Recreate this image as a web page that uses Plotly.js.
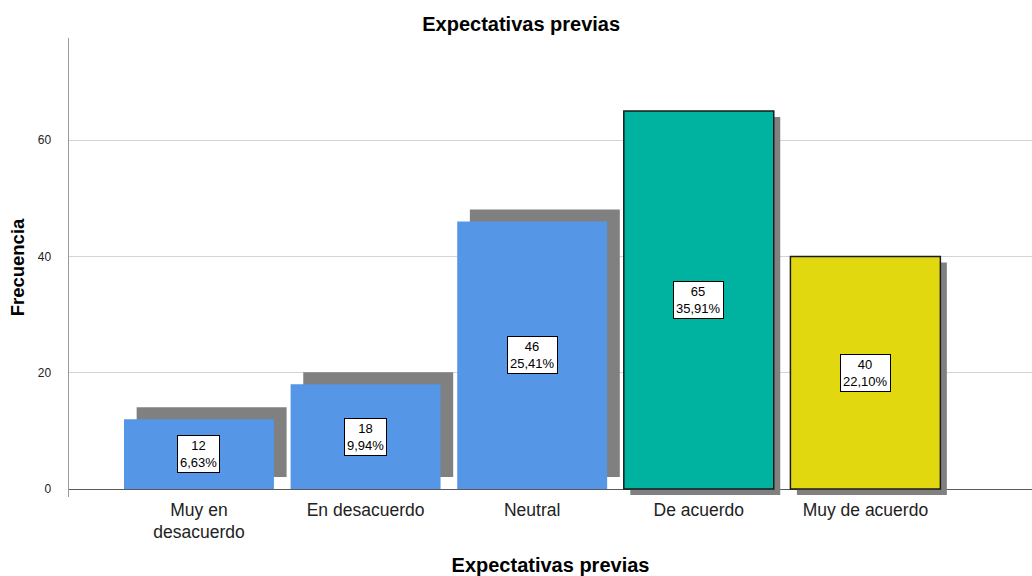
<!DOCTYPE html>
<html>
<head>
<meta charset="utf-8">
<script src="https://cdn.plot.ly/plotly-3.0.1.min.js"></script>
<style>
  html, body { margin: 0; padding: 0; background: #ffffff; }
  #chart { width: 1032px; height: 576px; }
</style>
</head>
<body>
<div id="chart"></div>
<script>
// ---- data ----
const categories = ['Muy en desacuerdo', 'En desacuerdo', 'Neutral', 'De acuerdo', 'Muy de acuerdo'];
const tickLabels = ['Muy en<br>desacuerdo', 'En desacuerdo', 'Neutral', 'De acuerdo', 'Muy de acuerdo'];
const counts = [12, 18, 46, 65, 40];
const percentLabels = ['6,63%', '9,94%', '25,41%', '35,91%', '22,10%'];

// ---- styles ----
const barColors = ['#5596e6', '#5596e6', '#5596e6', '#00b2a0', '#e2d810'];
const outlined = [false, false, false, true, true];
const shadowColor = '#808080';
const FONT = 'Liberation Sans, Arial, Helvetica, sans-serif';

// shadow groups: un-outlined bars cast shadow up-right, outlined bars down-right
const shadowUp = counts.map((v, i) => outlined[i] ? null : v);
const shadowDown = counts.map((v, i) => outlined[i] ? v : null);

const traces = [
  { type: 'bar', x: categories, y: shadowUp, xaxis: 'x', yaxis: 'y', width: 0.9,
    marker: { color: shadowColor, line: { width: 0 } }, hoverinfo: 'skip', showlegend: false },
  { type: 'bar', x: categories, y: shadowDown, xaxis: 'x2', yaxis: 'y2', width: 0.9,
    marker: { color: shadowColor, line: { width: 0 } }, hoverinfo: 'skip', showlegend: false },
  { type: 'bar', x: categories, y: counts, xaxis: 'x3', yaxis: 'y3', width: 0.9,
    marker: { color: barColors,
              line: { color: '#1a1a1a', width: outlined.map(o => o ? 1.5 : 0) } },
    showlegend: false }
];

const annotations = categories.map((c, i) => ({
  xref: 'x3', yref: 'y3', x: c, y: counts[i] / 2,
  text: counts[i] + '<br>' + percentLabels[i],
  showarrow: false, bgcolor: '#ffffff', bordercolor: '#000000', borderwidth: 1, borderpad: 2,
  font: { family: FONT, size: 13, color: '#000000' }
}));

const hidden = { visible: false, fixedrange: true };
const layout = {
  width: 1032, height: 576,
  margin: { l: 69, r: 0, t: 38, b: 79 },
  paper_bgcolor: '#ffffff', plot_bgcolor: 'rgba(0,0,0,0)',
  showlegend: false,
  bargap: 0.1,
  title: { text: 'Expectativas previas', x: 0.505, xanchor: 'center', y: 0.958, yanchor: 'middle',
           font: { family: FONT, size: 20, weight: 'bold', color: '#000000' } },
  xaxis: Object.assign({}, hidden, { type: 'category', categoryarray: categories, range: [-0.856, 4.924] }),
  yaxis: Object.assign({}, hidden, { range: [-3.44, 75.5] }),
  xaxis2: Object.assign({}, hidden, { type: 'category', categoryarray: categories, overlaying: 'x', range: [-0.819, 4.961] }),
  yaxis2: Object.assign({}, hidden, { overlaying: 'y', range: [-0.344, 78.59] }),
  xaxis3: {
    type: 'category', categoryarray: categories, overlaying: 'x', range: [-0.78, 5.0],
    tickvals: categories, ticktext: tickLabels,
    showgrid: false, zeroline: false, showline: false, ticks: '',
    tickfont: { family: FONT, size: 17.5, color: '#222222' },
    title: { text: 'Expectativas previas', standoff: 16,
             font: { family: FONT, size: 20, weight: 'bold', color: '#000000' } },
    fixedrange: true
  },
  yaxis3: {
    overlaying: 'y', range: [-1.376, 77.56],
    tickvals: [0, 20, 40, 60], ticks: '', ticklabelstandoff: 14,
    showgrid: true, gridcolor: '#d4d4d4', gridwidth: 1,
    zeroline: true, zerolinecolor: '#5a5a5a', zerolinewidth: 1,
    showline: true, linecolor: '#9a9a9a', linewidth: 1.5,
    tickfont: { family: FONT, size: 12, color: '#222222' },
    title: { text: 'Frecuencia', standoff: 8,
             font: { family: FONT, size: 18.5, weight: 'bold', color: '#000000' } },
    fixedrange: true
  },
  annotations: annotations
};

Plotly.newPlot('chart', traces, layout, { displayModeBar: false, staticPlot: true });
</script>
</body>
</html>
